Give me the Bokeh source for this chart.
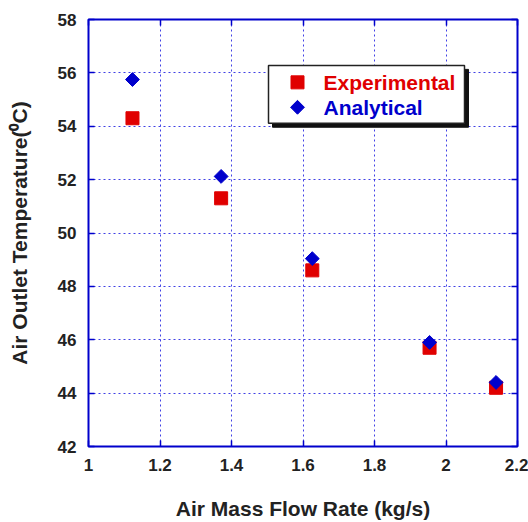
from bokeh.plotting import figure
from bokeh.models import Range1d, LinearAxis, ColumnDataSource
from bokeh.embed import file_html
from bokeh.resources import INLINE
from bokeh.core.properties import value
import math

# ---- data ----
flow_rate = [1.123, 1.371, 1.626, 1.954, 2.140]
experimental = [54.3, 51.3, 48.6, 45.7, 44.2]
analytical = [55.75, 52.12, 49.04, 45.9, 44.4]

x_ticks = [1.0, 1.2, 1.4, 1.6, 1.8, 2.0, 2.2]
x_tick_labels = ["1", "1.2", "1.4", "1.6", "1.8", "2", "2.2"]
y_ticks = [42, 44, 46, 48, 50, 52, 54, 56, 58]
y_tick_labels = ["42", "44", "46", "48", "50", "52", "54", "56", "58"]
legend_labels = ["Experimental", "Analytical"]

RED = "#e00000"
BLUE = "#0000cc"
FONT = "Liberation Sans"

FRAME_W = 429
FRAME_H = 428

p = figure(width=528, height=522, x_range=Range1d(1.0, 2.2), y_range=Range1d(42, 58),
           output_backend="svg", toolbar_location=None,
           min_border_left=88, min_border_top=19, min_border_right=11, min_border_bottom=75)
p.background_fill_color = "white"
p.border_fill_color = "white"
p.outline_line_color = BLUE
p.outline_line_width = 2

# pixel ranges for the legend box (frame pixels, y measured from the top)
p.extra_x_ranges = {"px": Range1d(0, FRAME_W)}
p.extra_y_ranges = {"py": Range1d(FRAME_H, 0)}

# grid
p.grid.grid_line_color = "#1010e0"
p.grid.grid_line_dash = "2 3"
p.grid.grid_line_width = 1
p.grid.grid_line_alpha = 0.8

# axes
p.xaxis.ticker = x_ticks
p.xaxis.major_label_overrides = {t: l for t, l in zip(x_ticks, x_tick_labels)}
p.yaxis.ticker = y_ticks
p.yaxis.major_label_overrides = {t: l for t, l in zip(y_ticks, y_tick_labels)}
for ax in (p.xaxis, p.yaxis):
    ax.axis_line_color = None
    ax.major_tick_in = 6
    ax.major_tick_out = 0
    ax.major_tick_line_color = BLUE
    ax.major_tick_line_width = 1.5
    ax.minor_tick_line_color = None
    ax.major_label_text_font = FONT
    ax.major_label_text_font_style = "bold"
    ax.major_label_text_font_size = "17px"
    ax.major_label_text_color = "#222222"
    ax.axis_label_text_font = FONT
    ax.axis_label_text_font_style = "bold"
    ax.axis_label_text_font_size = "21px"
    ax.axis_label_text_color = "#222222"
    ax.major_label_standoff = 12

p.xaxis.axis_label = "Air Mass Flow Rate (kg/s)"
p.xaxis.axis_label_standoff = 23
p.yaxis.axis_label = "Air Outlet Temperature(\u2070C)"
p.yaxis.axis_label_standoff = 24

# mirrored inward ticks on top and right
for loc, tk in (("right", y_ticks), ("above", x_ticks)):
    ax = LinearAxis(ticker=tk, axis_line_color=None, major_tick_in=6, major_tick_out=0,
                    major_tick_line_color=BLUE, major_tick_line_width=1.5,
                    minor_tick_line_color=None, major_label_text_font_size="0px",
                    major_label_overrides={t: "" for t in tk},
                    major_label_text_alpha=0, major_label_standoff=0)
    p.add_layout(ax, loc)

# data
src = ColumnDataSource(dict(x=flow_rate, exp=experimental, ana=analytical))
p.scatter("x", "exp", source=src, marker="square", size=13, fill_color=RED, line_color=RED)
p.scatter("x", "ana", source=src, marker="square", angle=math.pi / 4, size=9.8,
          fill_color=BLUE, line_color=BLUE)

# legend (drawn in frame-pixel coordinates)
box_l, box_r, box_t, box_b = 180, 376, 46, 104
p.quad(left=[box_l + 4], right=[box_r + 4], top=[box_t + 4], bottom=[box_b + 4],
       fill_color="#111111", line_color="#111111", x_range_name="px", y_range_name="py")
p.quad(left=[box_l], right=[box_r], top=[box_t], bottom=[box_b],
       fill_color="white", line_color="#222222", line_width=1.5,
       x_range_name="px", y_range_name="py")
key_x = [209, 209]
key_y = [63, 88]
p.scatter(x=[key_x[0]], y=[key_y[0]], marker="square", size=13, fill_color=RED, line_color=RED,
          x_range_name="px", y_range_name="py")
p.scatter(x=[key_x[1]], y=[key_y[1]], marker="square", angle=math.pi / 4, size=9.8,
          fill_color=BLUE, line_color=BLUE, x_range_name="px", y_range_name="py")
p.text(x=[235, 235], y=key_y, text=legend_labels, text_color=[RED, BLUE],
       text_font=value(FONT), text_font_style="bold", text_font_size="21px",
       text_baseline="middle", text_align="left", x_range_name="px", y_range_name="py")

open("out.html", "w").write(file_html(p, INLINE))
